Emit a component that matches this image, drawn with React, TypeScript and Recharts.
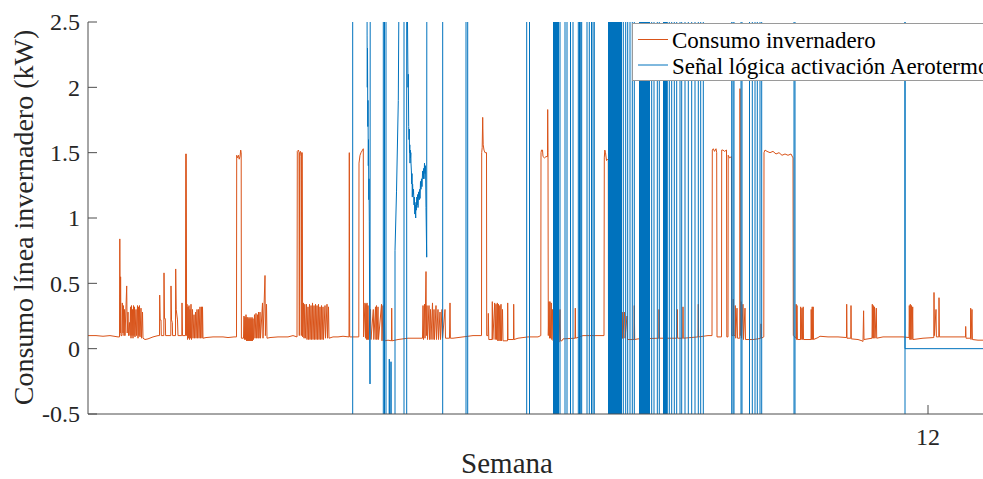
import { LineChart, Line, XAxis, YAxis, Legend } from "recharts";

// eje x: muestras de 24 min desde el inicio de la semana 10 (420 muestras = 1 semana)
const semanaInicio = 10;
const muestrasPorSemana = 420;
const xTicks = [840];
const yTicks = [-0.5, 0, 0.5, 1, 1.5, 2, 2.5];

// señal lógica fuera de escala
const A = 4;
const B = -2;

// [muestra, kW]
const consumo: [number, number][] = [
  [0, 0.1], [8, 0.1], [15, 0.095], [22, 0.1], [30, 0.09],
  [31.5, 0.09], [31.8, 0.84], [32.3, 0.12], [32.6, 0.55], [33, 0.1],
  [34, 0.1], [34.3, 0.35], [35, 0.12], [35.4, 0.33], [36, 0.1], [36.5, 0.3], [37, 0.1], [38.7, 0.48], [39.2, 0.12],
  [40, 0.28], [40.5, 0.1], [41.5, 0.2], [42, 0.1], [42.5, 0.32], [43, 0.08], [43.5, 0.33], [44, 0.1], [44.5, 0.3],
  [45, 0.08], [45.5, 0.33], [46, 0.1], [46.5, 0.32], [47, 0.09], [48, 0.3], [48.5, 0.1], [49.5, 0.33], [50, 0.08],
  [50.5, 0.32], [51, 0.1], [51.5, 0.33], [52, 0.09], [53, 0.31], [53.5, 0.08], [54.5, 0.28], [55, 0.08],
  [57, 0.07], [60, 0.075], [65, 0.09], [70, 0.1],
  [71.5, 0.1], [71.7, 0.41], [72.2, 0.22], [73, 0.22], [73.3, 0.1], [75.8, 0.1], [76, 0.58], [76.5, 0.23], [77.3, 0.23],
  [77.6, 0.1], [82.8, 0.1], [83, 0.48], [83.5, 0.22], [84.3, 0.2], [84.6, 0.1], [87.5, 0.1], [87.7, 0.61], [88.2, 0.3],
  [89, 0.25], [89.5, 0.22], [90, 0.1], [93.8, 0.1], [94, 0.35], [94.5, 0.1], [97.5, 0.1], [97.7, 1.49], [98.3, 1.49], [98.6, 0.1],
  [99, 0.34], [99.5, 0.07], [100, 0.32], [100.5, 0.08], [101, 0.33], [101.5, 0.07], [102, 0.3], [102.5, 0.08], [103, 0.34],
  [103.5, 0.07], [104.5, 0.3], [105, 0.08], [106, 0.26], [106.5, 0.08], [107.5, 0.28], [108, 0.08], [109, 0.3], [109.5, 0.08],
  [110.5, 0.3], [111, 0.08], [112, 0.32], [112.5, 0.08], [113.5, 0.32], [114, 0.08], [114.5, 0.32], [115, 0.08],
  [118, 0.085], [125, 0.09], [135, 0.09], [140, 0.085], [146, 0.09],
  [148.5, 0.09], [148.7, 1.48], [149.5, 1.46], [150.5, 1.48], [151.2, 1.45], [152, 1.47], [152.7, 1.52], [153.2, 1.5], [153.4, 0.08],
  [155.5, 0.08], [156, 0.25], [156.5, 0.07], [157, 0.24], [157.5, 0.07], [158, 0.26], [158.5, 0.06], [159, 0.24], [159.5, 0.06],
  [160, 0.24], [160.5, 0.06], [161, 0.23], [161.5, 0.06], [162, 0.24], [162.5, 0.06], [163, 0.23], [163.5, 0.06], [164, 0.24],
  [164.5, 0.06], [165, 0.23], [165.5, 0.07], [166.5, 0.26], [167, 0.08], [168, 0.27], [168.5, 0.08], [169.5, 0.26], [170, 0.08],
  [170.5, 0.28], [171, 0.08], [172, 0.28], [172.5, 0.08], [174.5, 0.35], [175, 0.08], [177, 0.56], [177.4, 0.1], [178.5, 0.34], [179, 0.08],
  [182, 0.085], [190, 0.09], [200, 0.09], [205, 0.1], [209, 0.09],
  [209.3, 1.51], [210.5, 1.52], [211, 1.5], [211.3, 0.1], [211.6, 1.5], [212.5, 1.51], [213, 1.47], [213.3, 0.1], [213.6, 1.5], [214.3, 1.5], [214.6, 0.09],
  [215.5, 0.35], [216, 0.08], [216.8, 0.34], [217.3, 0.08], [218.5, 0.34], [219, 0.07], [220, 0.32], [220.5, 0.07], [221.5, 0.34],
  [222, 0.07], [223, 0.33], [223.5, 0.07], [224.5, 0.35], [225, 0.07], [226, 0.33], [226.5, 0.07], [227.5, 0.34], [228, 0.07],
  [229, 0.33], [229.5, 0.07], [230.5, 0.34], [231, 0.07], [232, 0.32], [232.5, 0.07], [233.5, 0.33], [234, 0.07], [235, 0.32],
  [235.5, 0.07], [237, 0.33], [237.5, 0.08], [239, 0.34], [239.5, 0.08], [240.5, 0.32], [241, 0.08],
  [245, 0.09], [250, 0.09], [255, 0.095], [261, 0.09], [261.3, 1.5], [261.7, 0.09],
  [270.8, 0.09], [271, 1.42], [272, 1.48], [273, 1.5], [274.5, 1.52], [275.3, 1.53], [275.6, 0.09],
  [277, 0.35], [277.5, 0.08], [278, 0.34], [278.5, 0.07], [279, 0.35], [279.5, 0.07], [280, 0.33], [280.5, 0.07], [282.5, 0.3],
  [283, 0.07], [285.3, 0.3], [285.8, 0.07], [287.5, 0.32], [288, 0.07], [288.5, 0.33], [289, 0.07], [290, 0.32], [290.5, 0.07],
  [293.5, 0.34], [294, 0.06], [295, 0.33], [295.5, 0.06], [296.3, 0.34], [296.8, 0.06],
  [300, 0.065], [303.5, 0.06], [303.7, 0.31], [304, 0.06], [310, 0.07], [320, 0.08], [330, 0.08],
  [334.5, 0.08], [335, 0.33], [335.5, 0.07], [336.5, 0.34], [337, 0.08], [338, 0.59], [338.4, 0.1], [339, 0.33], [339.5, 0.07],
  [341, 0.33], [341.5, 0.07], [342.5, 0.3], [343, 0.07], [344.5, 0.35], [345, 0.07], [346, 0.3], [346.5, 0.07], [348, 0.33],
  [348.5, 0.07], [350, 0.3], [350.5, 0.07], [352, 0.28], [352.5, 0.07], [354, 0.3], [354.5, 0.08], [357, 0.3], [357.5, 0.08],
  [361.5, 0.08], [362, 0.35], [362.4, 0.08],
  [365, 0.08], [375, 0.09], [385, 0.1], [393.5, 0.1],
  [393.7, 1.5], [394.2, 1.54], [394.7, 1.77], [395.2, 1.56], [396, 1.52], [397, 1.5], [398.5, 1.5], [398.7, 0.1],
  [400, 0.1], [400.3, 0.27], [400.8, 0.07], [404, 0.07], [404.3, 0.36], [404.8, 0.07], [406.7, 0.35], [407.2, 0.07], [408, 0.34],
  [408.5, 0.07], [409.3, 0.35], [409.8, 0.06], [410.5, 0.34], [411, 0.06], [411.8, 0.33], [412.3, 0.06], [413, 0.34], [413.5, 0.06],
  [414.5, 0.3], [415, 0.06], [419.5, 0.06], [419.7, 0.35], [420, 0.07], [425.5, 0.07], [425.7, 0.34], [426, 0.07],
  [430, 0.08], [440, 0.09], [450, 0.09], [452.8, 0.1],
  [453, 1.5], [453.5, 1.52], [454.5, 1.52], [455, 1.47], [456.5, 1.46], [458, 1.47], [459.5, 1.47], [459.7, 1.83], [460, 1.5], [460.3, 0.1],
  [461, 0.36], [461.5, 0.08], [462, 0.36], [462.5, 0.08], [463.3, 0.35], [463.8, 0.07], [464.5, 0.3], [465, 0.06], [470, 0.06],
  [470.5, 0.31], [471, 0.05], [472, 0.3], [472.5, 0.06], [474, 0.06], [475, 0.075], [487, 0.08], [487.3, 0.31], [487.6, 0.08],
  [495, 0.1], [505, 0.1], [516, 0.1],
  [516.3, 1.46], [516.8, 1.52], [517.5, 1.5], [518.5, 1.44], [519.5, 1.45], [520.3, 1.44], [520.5, 0.1],
  [522, 0.08], [530, 0.075], [534, 0.075], [534.3, 0.28], [534.7, 0.08], [536.5, 0.28], [537, 0.08], [539, 0.25], [539.5, 0.07],
  [546, 0.07], [546.3, 0.33], [546.7, 0.07], [550, 0.075],
  [570.8, 0.08], [571, 0.3], [571.3, 0.08], [589, 0.08], [589.3, 0.3], [589.6, 0.08], [594.7, 0.08], [595, 0.32], [595.3, 0.08],
  [610, 0.09], [610.3, 0.34], [610.6, 0.09], [620, 0.1], [624, 0.1],
  [624.3, 1.52], [625.3, 1.53], [626.5, 1.51], [628, 1.53], [628.7, 1.5], [629, 0.09], [633.5, 0.09],
  [633.7, 1.52], [635, 1.52], [636.5, 1.51], [638.5, 1.52], [638.8, 0.09], [640, 0.09],
  [640.2, 1.48], [641.5, 1.46], [643.5, 1.47], [643.8, 0.1],
  [645, 0.1], [645.3, 0.38], [645.7, 0.1], [647, 0.1], [647.3, 0.33], [647.7, 0.08], [649, 0.31], [649.5, 0.08], [651.8, 0.08],
  [652, 1.99], [652.3, 0.1], [653, 0.36], [653.5, 0.08], [655, 0.34], [655.5, 0.07], [657, 0.31], [657.5, 0.07], [659, 0.07],
  [665, 0.07], [670, 0.075], [672.8, 0.08], [673, 0.19], [673.3, 0.08], [675.8, 0.09],
  [676, 1.5], [677, 1.52], [679, 1.51], [682, 1.5], [685, 1.51], [688, 1.49], [691, 1.5], [694, 1.48], [697, 1.49], [700, 1.48],
  [703, 1.49], [705, 1.46], [705.3, 0.1],
  [708, 0.08], [708.2, 0.34], [708.6, 0.07], [709, 0.33], [709.4, 0.07], [712.5, 0.07], [712.7, 0.32], [713.1, 0.07], [714, 0.31],
  [714.4, 0.07], [715.2, 0.32], [715.5, 0.07], [723, 0.07], [723.2, 0.3], [723.6, 0.07], [724.2, 0.32], [724.6, 0.07], [725.2, 0.32], [725.5, 0.07],
  [730, 0.085], [732, 0.095], [740, 0.09], [750, 0.09], [758.5, 0.085],
  [758.7, 0.34], [759, 0.08], [762.8, 0.08], [763, 0.33], [763.3, 0.075], [770, 0.07], [774, 0.06], [775, 0.055], [775.6, 0.29],
  [776, 0.07], [784, 0.08], [784.3, 0.34], [784.8, 0.08], [785.3, 0.33], [785.8, 0.08], [786.5, 0.32], [787, 0.08], [788.3, 0.31], [788.7, 0.08],
  [795, 0.09], [805, 0.09], [815, 0.09], [821, 0.085],
  [821.3, 0.33], [821.8, 0.07], [822.3, 0.34], [822.8, 0.07], [823.5, 0.33], [824, 0.07], [824.7, 0.32], [825, 0.07],
  [835, 0.08], [845.8, 0.085], [846, 0.43], [846.4, 0.1], [848, 0.3], [848.4, 0.09], [850.8, 0.09], [851, 0.39], [851.4, 0.09],
  [865, 0.09], [877.5, 0.09], [877.7, 0.17], [878, 0.08], [882.5, 0.08], [882.7, 0.31], [883, 0.07], [884, 0.3], [884.4, 0.07],
  [890, 0.065], [900, 0.065], [922, 0.065],
];

// [muestra, valor] señal lógica del aerotermo
const senal: [number, number][] = [
  [0, B], [264.7, B], [264.7, A],
  [278.8, A], [279.1, 2.4], [279.3, 2.0], [279.5, 2.3], [279.8, 1.7], [280, 1.9], [280.3, 1.4], [280.5, 1.6], [280.8, 1.14],
  [281, 1.3], [281.3, 0.97], [282, -0.27], [282.3, A],
  [295.3, A], [295.3, B], [296.5, B], [296.5, A], [298, A], [298, B],
  [301.2, B], [301.3, -0.08], [301.5, B], [302.9, B], [303, -0.1], [303.2, B],
  [307, B], [307, 0.75], [308.5, 1.2], [310.3, 1.9], [312, A],
  [316, A], [316, B], [318.7, B], [318.7, A],
  [319.5, 2.5], [320, 2.0], [320.3, 2.1], [320.7, 1.7], [321, 1.6], [321.3, 1.68], [321.5, 1.5], [321.8, 1.56], [322, 1.42],
  [322.3, 1.52], [322.5, 1.46], [322.8, 1.5], [323, 1.42], [323.4, 1.36], [323.7, 1.26], [324, 1.34], [324.3, 1.16], [324.6, 1.26],
  [325, 1.18], [325.5, 1.22], [326, 1.1], [326.4, 1.16], [326.8, 1.03], [327.2, 1.1], [327.7, 1.0], [328, 1.12], [328.3, 1.06],
  [328.8, 1.16], [329.3, 1.1], [329.7, 1.18], [330, 1.08], [330.6, 1.2], [331.3, 1.14], [331.7, 1.22], [332, 1.15], [332.5, 1.28],
  [333, 1.22], [333.5, 1.3], [334, 1.24], [334.6, 1.36], [335.3, 1.3], [335.7, 1.38], [336, 1.3], [336.5, 1.42], [337, 1.34],
  [337.5, 1.4], [338, 1.08], [338.7, 0.7], [338.9, A],
  [354.7, A], [354.7, B],
  [378, B], [378, A], [379.7, A], [379.7, B],
  [438.7, B], [438.7, A], [441.5, A], [441.5, B],
  [465.5, B], [465.5, A], [466.5, A], [466.5, B], [467.5, B], [467.5, A], [468.5, A], [468.5, B], [469.5, B], [469.5, A],
  [470.5, A], [470.5, B], [472, B], [472, A],
  [477, A], [477, B], [479, B], [479, A],
  [482.5, A], [482.5, B], [485, B], [485, A],
  [490.3, A], [490.3, B], [491.5, B], [491.5, A], [492.7, A], [492.7, B], [493.7, B], [493.7, A],
  [499, A], [499, B], [501.3, B], [501.3, A],
  [503.5, A], [503.5, B], [505, B], [505, A], [506.3, A], [506.3, B],
  [520.5, B], [520.5, A], [521.5, A], [521.5, B], [522.5, B], [522.5, A], [523.5, A], [523.5, B], [524.5, B], [524.5, A],
  [525.5, A], [525.5, B], [526.5, B], [526.5, A], [527.5, A], [527.5, B], [528.5, B], [528.5, A], [529.5, A], [529.5, B],
  [530.5, B], [530.5, A], [531.5, A], [531.5, B], [532.5, B], [532.5, A], [533.5, A], [533.5, B],
  [535.3, B], [535.3, A], [537.7, A], [537.7, B], [539.7, B], [539.7, A], [542, A], [542, B], [544.3, B], [544.3, A], [546.3, A], [546.3, B],
  [551.5, B], [551.5, A], [552.5, A], [552.5, B], [553.5, B], [553.5, A], [554.5, A], [554.5, B], [555.5, B], [555.5, A],
  [556.5, A], [556.5, B], [557.5, B], [557.5, A], [558.5, A], [558.5, B], [559.5, B], [559.5, A], [560.5, A], [560.5, B],
  [561.5, B], [561.5, A],
  [563.7, A], [563.7, B], [566, B], [566, A], [569.3, A], [569.3, B], [571.3, B], [571.3, A],
  [575.5, A], [575.5, B], [576.5, B], [576.5, A], [577.5, A], [577.5, B], [578.5, B], [578.5, A], [579.3, A], [579.3, B],
  [581.3, B], [581.3, A], [583.7, A], [583.7, B], [586.3, B], [586.3, A], [588.7, A], [588.7, B], [592, B], [592, A], [593.7, A], [593.7, B],
  [597, B], [597, A], [600.3, A], [600.3, B], [603.7, B], [603.7, A], [607, A], [607, B], [610.3, B], [610.3, A],
  [612.7, A], [612.7, B], [615.3, B], [615.3, A],
  [643.7, A], [643.7, B], [645, B], [645, A], [646, A], [646, B],
  [653, B], [653, A], [654, A], [654, B],
  [661.5, B], [661.5, A], [664.3, A], [664.3, B], [667, B], [667, A], [669.3, A], [669.3, B], [672, B], [672, A], [673.7, A], [673.7, B],
  [706, B], [706, A], [707, A], [707, B],
  [817, B], [817, A], [817, 0], [922, 0],
];

const consumoData = consumo.map(([x, v]) => ({ x, v }));
const senalData = senal.map(([x, v]) => ({ x, v }));

const naranja = "#D95319";
const azul = "#0072BD";
const ejeColor = "#4d4d4d";
const textoColor = "#262626";
const fuente = "'Liberation Serif', 'Times New Roman', serif";

function YTick(props: any) {
  const { x, y, payload } = props;
  return (
    <g>
      <line x1={x} x2={x + 9} y1={y} y2={y} stroke={ejeColor} />
      <text x={x - 8} y={y} dy="0.35em" textAnchor="end" fill={textoColor} fontSize={24} fontFamily={fuente}>
        {payload.value}
      </text>
    </g>
  );
}

function XTick(props: any) {
  const { x, y, payload } = props;
  return (
    <g>
      <line x1={x} x2={x} y1={y} y2={y - 9} stroke={ejeColor} />
      <text x={x} y={y + 31} textAnchor="middle" fill={textoColor} fontSize={24} fontFamily={fuente}>
        {semanaInicio + payload.value / muestrasPorSemana}
      </text>
    </g>
  );
}

function XTickArriba(props: any) {
  const { x, y } = props;
  return <line x1={x} x2={x} y1={y} y2={y + 9} stroke={ejeColor} />;
}

function Leyenda() {
  return (
    <svg width={400} height={58} style={{ display: "block" }}>
      <rect x={0.5} y={0.5} width={399} height={57} fill="#fff" stroke="#9a9a9a" />
      <line x1={6} x2={36} y1={16.5} y2={16.5} stroke={naranja} />
      <text x={40} y={25} fontSize={23} fontFamily={fuente} fill="#000">Consumo invernadero</text>
      <line x1={6} x2={36} y1={42} y2={42} stroke={azul} />
      <text x={40} y={51} fontSize={23} fontFamily={fuente} fill="#000">Señal lógica activación Aerotermo</text>
    </svg>
  );
}

export default function App() {
  return (
    <div style={{ position: "fixed", left: 0, top: 0, width: 983, height: 479, overflow: "hidden", background: "#fff" }}>
      <LineChart width={1010} height={479} margin={{ top: 22, right: 0, bottom: 0, left: 0 }}>
        <XAxis
          type="number"
          dataKey="x"
          domain={[0, 922]}
          ticks={xTicks}
          allowDataOverflow
          height={65}
          tickSize={0}
          tickMargin={0}
          tickLine={false}
          axisLine={{ stroke: ejeColor }}
          tick={(p: any) => <XTick {...p} />}
        />
        <XAxis
          xAxisId="arriba"
          orientation="top"
          type="number"
          dataKey="x"
          domain={[0, 922]}
          ticks={xTicks}
          allowDataOverflow
          height={0}
          tickSize={0}
          tickMargin={0}
          tickLine={false}
          axisLine={{ stroke: ejeColor }}
          tick={(p: any) => <XTickArriba {...p} />}
        />
        <YAxis
          type="number"
          domain={[-0.5, 2.5]}
          ticks={yTicks}
          allowDataOverflow
          width={88}
          tickSize={0}
          tickMargin={0}
          tickLine={false}
          axisLine={{ stroke: ejeColor }}
          tick={(p: any) => <YTick {...p} />}
        />
        <Line
          data={consumoData}
          dataKey="v"
          name="Consumo invernadero"
          type="linear"
          stroke={naranja}
          strokeWidth={1}
          dot={false}
          isAnimationActive={false}
        />
        <Line
          data={senalData}
          dataKey="v"
          name="Señal lógica activación Aerotermo"
          type="linear"
          stroke={azul}
          strokeWidth={1}
          dot={false}
          isAnimationActive={false}
        />
        <Legend
          layout="vertical"
          align="center"
          verticalAlign="middle"
          content={() => <Leyenda />}
          wrapperStyle={{ position: "absolute", left: 632, top: 23, width: 400, height: 58 }}
        />
      </LineChart>
      <svg width={983} height={479} style={{ position: "absolute", left: 0, top: 0, pointerEvents: "none" }}>
        <text
          x={0}
          y={0}
          transform="translate(33, 217.5) rotate(-90)"
          textAnchor="middle"
          fontSize={28}
          fontFamily={fuente}
          fill={textoColor}
        >
          Consumo línea invernadero (kW)
        </text>
        <text x={507} y={473} textAnchor="middle" fontSize={29} fontFamily={fuente} fill={textoColor}>
          Semana
        </text>
      </svg>
    </div>
  );
}
